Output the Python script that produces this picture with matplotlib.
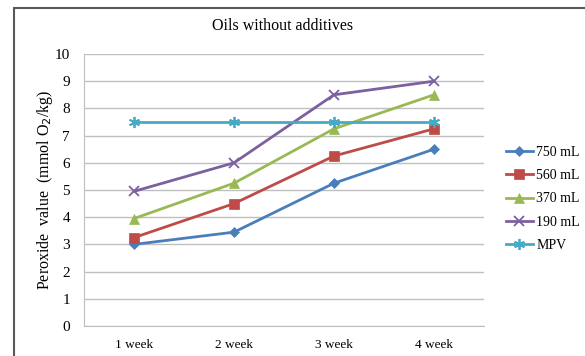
import matplotlib.pyplot as plt
from matplotlib.patches import Rectangle

plt.rcParams['font.family'] = ['Liberation Serif', 'DejaVu Serif']

# dados
semanas = ['1 week', '2 week', '3 week', '4 week']
v750 = [3.0, 3.45, 5.25, 6.5]
v560 = [3.25, 4.5, 6.25, 7.25]
v370 = [3.95, 5.25, 7.25, 8.5]
v190 = [4.95, 6.0, 8.5, 9.0]
mpv = [7.5, 7.5, 7.5, 7.5]

series = [
    ('750 mL', v750, '#4A7EBB', 'D', 5.5),
    ('560 mL', v560, '#BE4B48', 's', 7),
    ('370 mL', v370, '#98B954', '^', 7),
    ('190 mL', v190, '#7D60A0', 'x', 7.5),
    ('MPV', mpv, '#46AAC5', (6, 2, 0), 8),
]

fig = plt.figure(figsize=(5.85, 3.56), dpi=100)
ax = fig.add_axes([84/585, 1-326/356, 400/585, 272/356])

x = range(len(semanas))
for nome, vals, cor, mk, ms in series:
    ax.plot(x, vals, color=cor, lw=2, marker=mk, markersize=ms,
            markeredgewidth=1.3 if mk in ('x', (6, 2, 0)) else 0.5,
            markeredgecolor=cor, markerfacecolor=cor, label=nome)

ax.set_xlim(-0.5, 3.5)
ax.set_ylim(0, 10)
ax.set_yticks(range(0, 11))
ax.set_xticks(list(x))
ax.set_xticklabels(semanas, fontsize=9.5)
ax.tick_params(axis='y', labelsize=11, length=0, pad=10)
ax.tick_params(axis='x', length=0, pad=9)
ax.grid(axis='y', color='#BFBFBF', lw=1)
ax.set_axisbelow(True)
for s in ['top', 'right']:
    ax.spines[s].set_visible(False)
for s in ['left', 'bottom']:
    ax.spines[s].set_color('#BFBFBF')

ax.set_ylabel('Peroxide  value  (mmol O$_2$/kg)', fontsize=11.5, labelpad=0)
fig.text(283/585, 1-26/356, 'Oils without additives', ha='center', va='center', fontsize=11.5)

ax.legend(loc='upper left', bbox_to_anchor=(500/585, 1-140/356), bbox_transform=fig.transFigure,
          frameon=False, fontsize=10, handlelength=2.0, handletextpad=0.2,
          labelspacing=0.75, borderaxespad=0)

# moldura externa (cortada à direita e embaixo)
fig.patches.append(Rectangle((14/585, -0.1), 1.2, 1-8/356+0.1, transform=fig.transFigure,
                             fill=False, edgecolor='#595959', lw=1.5))

fig.savefig('out.png', dpi=100)
